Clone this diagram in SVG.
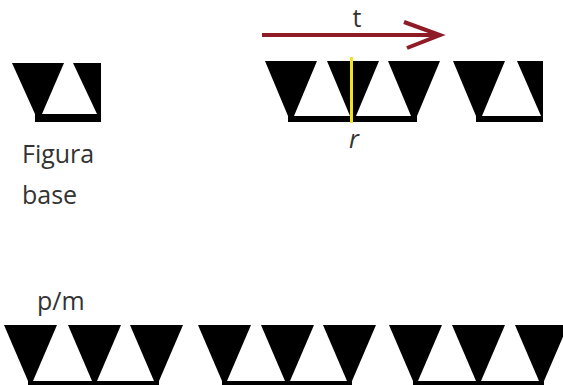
<svg xmlns="http://www.w3.org/2000/svg" xmlns:xlink="http://www.w3.org/1999/xlink" width="563" height="385" viewBox="0 0 563 385">
  <style>
    .blk { fill: #000; }
    .lbl { font-family: "Open Sans", "Noto Sans", sans-serif; font-size: 25px; fill: #333; }
    .arrow { stroke: #8e1b26; stroke-width: 4; fill: none; }
    .mirror { stroke: #f2e11c; stroke-width: 3; }
  </style>
  <defs>
    <path id="trapA" d="M0,0 H52 L29,55 H23 Z"/>
    <path id="trapB" d="M0,0 H53 L29,56 H24 Z"/>
    <marker id="chev" markerUnits="userSpaceOnUse" markerWidth="44" markerHeight="34" refX="38" refY="15" orient="auto" viewBox="0 0 44 34">
      <polyline points="2,2 38,15 5,28" fill="none" stroke="#8e1b26" stroke-width="4" stroke-linejoin="miter"/>
    </marker>
  </defs>
  <rect width="563" height="385" fill="#fff"/>

  <g id="base-figure" class="blk">
    <path d="M12,63 H64 L42,114 H35 Z"/>
    <path d="M73,63 H101 V114 H97 Z"/>
    <rect x="35" y="114" width="66" height="8"/>
  </g>
  <g id="label-base">
    <text class="lbl" x="22" y="163">Figura</text>
    <text class="lbl" x="22" y="204">base</text>
  </g>

  <g id="top-row" class="blk">
    <use xlink:href="#trapA" x="265" y="61"/>
    <use xlink:href="#trapA" x="327" y="61"/>
    <use xlink:href="#trapA" x="388" y="61"/>
    <rect x="288" y="116" width="129" height="6"/>
    <use xlink:href="#trapA" x="453" y="61"/>
    <path d="M517,61 H543 V116 H541 Z"/>
    <rect x="476" y="116" width="67" height="6"/>
  </g>
  <g id="mirror-r">
    <line class="mirror" x1="351.5" y1="57" x2="351.5" y2="123"/>
    <text class="lbl" x="354" y="148" text-anchor="middle" font-style="italic" font-size="24">r</text>
  </g>

  <g id="connectors">
    <line class="arrow" x1="262" y1="35" x2="440" y2="35" marker-end="url(#chev)"/>
  </g>
  <g id="label-t">
    <text class="lbl" x="357" y="27" text-anchor="middle">t</text>
  </g>

  <g id="label-pm">
    <text class="lbl" x="37" y="310">p/m</text>
  </g>
  <g id="bottom-row" class="blk">
    <use xlink:href="#trapB" x="4" y="325"/>
    <use xlink:href="#trapB" x="68" y="325"/>
    <use xlink:href="#trapB" x="130" y="325"/>
    <rect x="28" y="381" width="131" height="6"/>
    <use xlink:href="#trapB" x="198" y="325"/>
    <use xlink:href="#trapB" x="261" y="325"/>
    <use xlink:href="#trapB" x="323" y="325"/>
    <rect x="222" y="381" width="130" height="6"/>
    <use xlink:href="#trapB" x="389" y="325"/>
    <use xlink:href="#trapB" x="452" y="325"/>
    <use xlink:href="#trapB" x="515" y="325"/>
    <rect x="413" y="381" width="131" height="6"/>
  </g>
</svg>
